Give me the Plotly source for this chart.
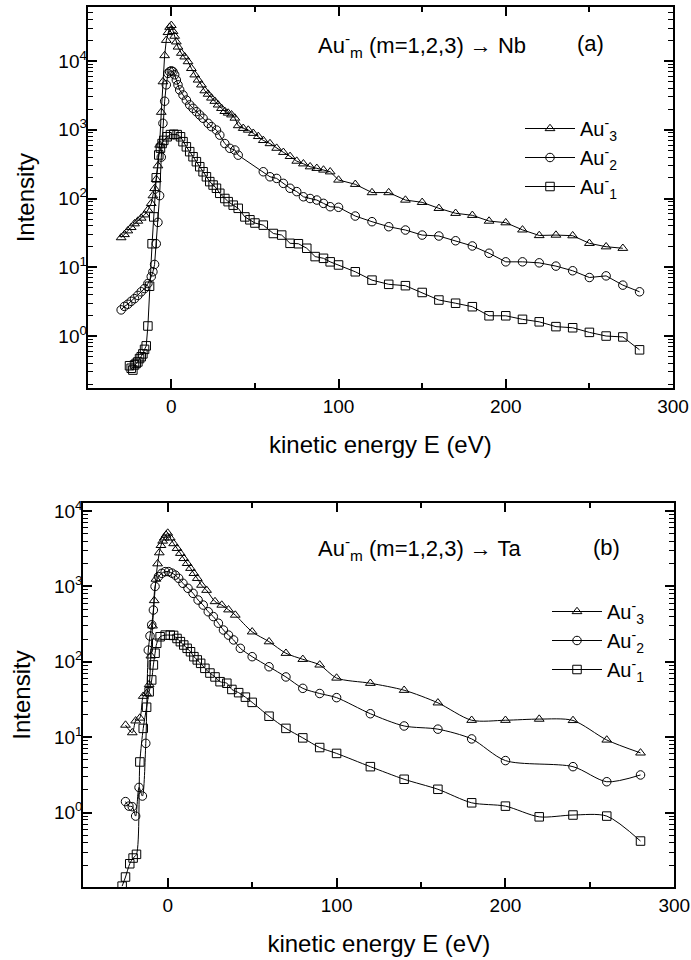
import plotly.graph_objects as go

# ---------------- DATA: panel (a)  Au_m^- -> Nb ----------------
E3a = [-30, -28, -26, -24, -22, -20, -18, -16, -14, -12, -11, -10, -9, -8, -7, -6, -5, -4, -3, -2, -1, 0,
       1, 2, 3, 4, 6, 8, 10, 12, 14, 16, 18, 20, 22, 24, 26, 28, 30, 32, 34, 36, 38, 40, 43, 46, 49, 52, 55,
       59, 63, 67, 71, 75, 79, 83, 87, 91, 95, 100, 110, 120, 130, 140, 150, 160, 170, 180, 190, 200, 210,
       220, 230, 240, 250, 260, 270]
I3a = [27, 30, 34, 38, 43, 47, 52, 58, 68, 85, 110, 140, 190, 300, 600, 1800, 5000, 12000, 20000, 26000, 31000, 33000,
       27000, 23000, 19000, 16000, 13000, 11500, 9800, 7800, 6300, 5300, 4500, 3700, 3300, 2900, 2600, 2300, 2050,
       1850, 1750, 1650, 1480, 1150, 1050, 990, 890, 800, 700,
       630, 540, 470, 410, 350, 320, 290, 275, 260, 245, 186, 161, 122, 122, 95, 88, 72, 61, 57, 47, 44.5, 35,
       29, 29.4, 28.8, 22.3, 19.9, 18.9]

E2a = [-30, -28, -26, -24, -22, -20, -18, -16, -14, -12, -11, -10, -9, -8, -7, -6, -5, -4, -3, -2, -1, 0,
       1, 2, 3, 4, 5, 7, 9, 11, 13, 15, 17, 19, 22, 24, 27, 29, 32, 35, 38, 40, 55, 59, 63, 67, 71, 75, 79,
       83, 87, 91, 95, 100, 110, 120, 130, 140, 150, 160, 170, 180, 190, 200, 210, 220, 230, 240, 250, 260,
       270, 280]
I2a = [2.4, 2.7, 2.9, 3.2, 3.5, 3.9, 4.4, 4.9, 5.8, 7.3, 8.6, 11, 22, 45, 110, 400, 1240, 2600, 4500, 6600, 7000, 7200,
       7000, 6300, 5300, 4500, 3800, 3200, 2700, 2300, 2050, 1830, 1640, 1470, 1240, 1110, 990, 835, 630, 537, 507,
       427, 245, 207, 196, 166, 141, 126, 106, 100, 95, 85, 76, 74.5, 55.6, 46, 38.9, 34.8, 29.4, 28.5, 24.3, 20.4,
       16, 12, 12, 11.6, 10.4, 8.9, 7.1, 7.5, 5.5, 4.4]

E1a = [-25, -24, -23, -22, -21, -20, -19, -18, -17, -16, -15, -14, -13, -11.5, -10.5, -9, -7.5, -6.5, -5.5, -4.5,
       -2.5, -0.5, 1.5, 3.5, 5.5, 7, 9, 11, 13, 15, 17, 19, 21, 23, 25, 27, 29, 32, 34, 37, 40, 44, 47, 50, 55,
       61, 66, 71, 76, 81, 86, 91, 95, 100, 110, 120, 130, 140, 150, 160, 170, 180, 190, 200, 210, 220, 230,
       240, 250, 260, 270, 280]
I1a = [0.37, 0.34, 0.32, 0.38, 0.4, 0.42, 0.47, 0.5, 0.55, 0.64, 0.72, 1.4, 5.3, 22, 54, 200, 430, 540, 630, 700,
       790, 850, 860, 850, 790, 670, 565, 480, 405, 343, 290, 245, 207, 176, 157, 141, 119, 100, 90, 80, 72, 54, 49,
       44, 41, 31, 29.4, 22.3, 22, 18.9, 14.3, 13.5, 12, 10.8, 8.6, 6.5, 5.65, 5.4, 4.3, 3.34, 3.0, 2.67, 1.97,
       1.97, 1.75, 1.61, 1.37, 1.32, 1.13, 1.0, 0.97, 0.63]

# ---------------- DATA: panel (b)  Au_m^- -> Ta ----------------
E3b = [-25, -21, -19, -16.5, -14.5, -12.5, -11, -10, -9, -8, -7, -6, -5, -4, -3, -2, -1, 0, 1.5, 3.5, 5.5,
       7.5, 9.5, 11.5, 13.5, 15.5, 17.5, 20, 23, 28, 32, 36, 40, 50, 60, 70, 80, 90, 100, 120, 140, 160, 180,
       200, 220, 240, 260, 280]
I3b = [14.5, 11.5, 16.5, 18, 35, 38, 50, 120, 300, 650, 1250, 2000, 2800, 3500, 4000, 4400, 4800, 5100, 4400,
       3700, 3200, 2750, 2350, 2020, 1740, 1490, 1280, 1040, 890, 630, 566, 490, 417, 250, 185, 130, 108, 91, 61,
       52, 42, 28.6, 16.8, 16.8, 17.4, 16.7, 9.2, 6.2]

E2b = [-25, -23, -21, -19, -17, -15, -13, -11.5, -10.5, -9.5, -8.5, -7.5, -5.5, -3.5, -1.5, 0.5, 2.5, 4.5,
       6.5, 9, 12, 15, 18, 21, 24, 27, 30, 33, 36, 39, 43, 50, 60, 70, 80, 90, 100, 120, 140, 160, 180, 200,
       240, 260, 280]
I2b = [1.4, 1.22, 1.2, 0.9, 2.16, 1.66, 8.3, 143, 220, 310, 486, 1000, 1350, 1490, 1570, 1570, 1500, 1410,
       1280, 1100, 944, 810, 660, 566, 461, 398, 325, 264, 226, 195, 151, 117, 86, 63, 44.5, 38, 33.5, 20.5,
       14.1, 12.8, 9.5, 4.9, 4.07, 2.57, 3.16]

E1b = [-27, -25, -22.5, -20.5, -18.5, -16.5, -14.5, -12.5, -11, -9.5, -8.5, -7.5, -6.5, -4.5, -1.5, 1.5, 3.5,
       5.5, 7.5, 9.5, 11.5, 13.5, 15.5, 17.5, 19.5, 22, 25, 28, 31, 35, 38, 42, 46, 50, 60, 70, 80, 90, 100,
       120, 140, 160, 180, 200, 220, 240, 260, 280]
I1b = [0.106, 0.14, 0.21, 0.25, 0.28, 4.7, 13.1, 25, 40, 57.5, 91, 130, 176, 215, 226, 226, 224, 204, 185, 167,
       151, 136, 117, 106, 95.5, 82, 71, 63, 54.5, 52, 43, 39, 34, 29, 19, 13.1, 9.8, 7.3, 6.1, 4.07, 2.77, 2.04,
       1.35, 1.22, 0.88, 0.93, 0.9, 0.42]

series_names = ["Au<sup>-</sup><sub>3</sub>", "Au<sup>-</sup><sub>2</sub>", "Au<sup>-</sup><sub>1</sub>"]
symbols = ["triangle-up-open", "circle-open", "square-open"]
x_ticks = [0, 100, 200, 300]
y_tickvals = [0.1, 1, 10, 100, 1000, 10000]
y_ticktext = ["", "10<sup>0</sup>", "10<sup>1</sup>", "10<sup>2</sup>", "10<sup>3</sup>", "10<sup>4</sup>"]

FONT = "Liberation Sans, Arial, Helvetica, sans-serif"
W, H = 691, 960

fig = go.Figure()

panel_a = [(E3a, I3a), (E2a, I2a), (E1a, I1a)]
panel_b = [(E3b, I3b), (E2b, I2b), (E1b, I1b)]

for k, (ex, iy) in enumerate(panel_a):
    fig.add_trace(go.Scatter(
        x=ex, y=iy, mode="lines+markers", name=series_names[k],
        line=dict(color="black", width=1),
        marker=dict(symbol=symbols[k], size=8.5, color="black", line=dict(width=1, color="black")),
        xaxis="x", yaxis="y", legend="legend"))

for k, (ex, iy) in enumerate(panel_b):
    fig.add_trace(go.Scatter(
        x=ex, y=iy, mode="lines+markers", name=series_names[k],
        line=dict(color="black", width=1, shape="spline", smoothing=0.8),
        marker=dict(symbol=symbols[k], size=8.5, color="black", line=dict(width=1, color="black")),
        xaxis="x2", yaxis="y2", legend="legend2"))

# minor log ticks
def minor_vals(lo, hi):
    out = []
    for d in range(lo, hi + 1):
        for m in range(2, 10):
            out.append(m * 10 ** d)
    return out

def xaxis_cfg(domain, anchor):
    return dict(
        domain=domain, anchor=anchor, range=[-50, 300],
        tickvals=x_ticks, ticks="inside", ticklen=9, tickwidth=1.5, tickcolor="black",
        minor=dict(tickvals=[-50, 50, 150, 250], ticks="inside", ticklen=5, tickwidth=1.5, tickcolor="black"),
        showline=True, linewidth=2, linecolor="black", mirror="allticks",
        showgrid=False, zeroline=False,
        tickfont=dict(family=FONT, size=19, color="black"),
        title=dict(text="kinetic energy E (eV)", font=dict(family=FONT, size=24, color="black"), standoff=20),
        automargin=False)

def yaxis_cfg(domain, anchor, rng, lo, hi):
    return dict(
        domain=domain, anchor=anchor, type="log", range=rng,
        tickvals=y_tickvals, ticktext=y_ticktext,
        ticks="inside", ticklen=9, tickwidth=1.5, tickcolor="black",
        minor=dict(tickvals=minor_vals(lo, hi), ticks="inside", ticklen=5, tickwidth=1, tickcolor="black"),
        showline=True, linewidth=2, linecolor="black", mirror="allticks",
        showgrid=False, zeroline=False,
        tickfont=dict(family=FONT, size=19, color="black"),
        ticklabelstandoff=-5,
        title=dict(text="Intensity", font=dict(family=FONT, size=24, color="black"), standoff=17),
        automargin=False)

fig.update_layout(
    width=W, height=H,
    margin=dict(l=0, r=0, t=0, b=0),
    paper_bgcolor="white", plot_bgcolor="white",
    font=dict(family=FONT, color="black"),
    xaxis=xaxis_cfg([87.7 / W, 673 / W], "y"),
    yaxis=yaxis_cfg([1 - 388.3 / H, 1 - 7 / H], "x", [-0.76, 4.785], -1, 4),
    xaxis2=xaxis_cfg([83.3 / W, 674.3 / W], "y2"),
    yaxis2=yaxis_cfg([1 - 887.3 / H, 1 - 502.7 / H], "x2", [-0.99, 4.11], -1, 4),
    legend=dict(x=520 / W, xanchor="left", y=1 - 109 / H, yanchor="top",
                font=dict(family=FONT, size=20, color="black"), bgcolor="rgba(0,0,0,0)",
                itemwidth=50, tracegroupgap=0),
    legend2=dict(x=547 / W, xanchor="left", y=1 - 592 / H, yanchor="top",
                 font=dict(family=FONT, size=20, color="black"), bgcolor="rgba(0,0,0,0)",
                 itemwidth=50, tracegroupgap=0),
    annotations=[
        dict(text="Au<sup>-</sup><sub>m</sub> (m=1,2,3) \u2192 Nb", x=316 / W, y=1 - 45 / H,
             xref="paper", yref="paper", xanchor="left", yanchor="middle", showarrow=False,
             font=dict(family=FONT, size=22, color="black")),
        dict(text="(a)", x=590 / W, y=1 - 44 / H, xref="paper", yref="paper",
             xanchor="center", yanchor="middle", showarrow=False,
             font=dict(family=FONT, size=22, color="black")),
        dict(text="Au<sup>-</sup><sub>m</sub> (m=1,2,3) \u2192 Ta", x=316 / W, y=1 - 548 / H,
             xref="paper", yref="paper", xanchor="left", yanchor="middle", showarrow=False,
             font=dict(family=FONT, size=22, color="black")),
        dict(text="(b)", x=606 / W, y=1 - 547 / H, xref="paper", yref="paper",
             xanchor="center", yanchor="middle", showarrow=False,
             font=dict(family=FONT, size=22, color="black")),
    ],
)

fig.write_html("out.html", config={"displayModeBar": False},
               post_script="document.body.style.margin='0px';")
